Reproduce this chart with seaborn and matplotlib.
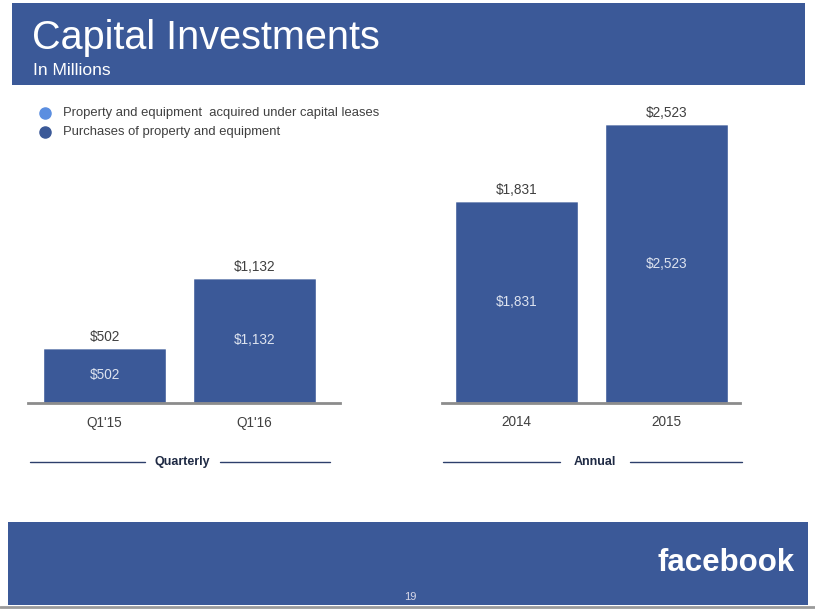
import numpy as np
import pandas as pd
import matplotlib
matplotlib.use("Agg")
import matplotlib.pyplot as plt
import seaborn as sns
from matplotlib.patches import Rectangle
from matplotlib.lines import Line2D

quarter_labels = ["Q1'15", "Q1'16"]
quarter_purchases = [502, 1132]
quarter_leases = [0, 0]
annual_labels = ["2014", "2015"]
annual_purchases = [1831, 2523]
annual_leases = [0, 0]

fb_blue = '#3b5998'
lease_blue = '#5b8ee0'
grey_txt = '#404040'

sns.set_theme(style='white')
plt.rcParams['font.family'] = ['Liberation Sans', 'DejaVu Sans']

fig = plt.figure(figsize=(8.15, 6.11), dpi=100)
W, H = 815, 611

def fx(px):
    return px / W

def fy(py):
    return 1 - py / H

# header and footer bands
fig.patches.append(Rectangle((fx(12), fy(85)), fx(793), 82 / H, transform=fig.transFigure,
                             facecolor=fb_blue, edgecolor='none', zorder=0))
fig.patches.append(Rectangle((fx(8), fy(605)), fx(800), 83 / H, transform=fig.transFigure,
                             facecolor=fb_blue, edgecolor='none', zorder=0))
fig.lines.append(Line2D([0, 1], [fy(607), fy(607)], transform=fig.transFigure, color='#9a9a9a', lw=2))
fig.text(fx(32), fy(49), 'Capital Investments', color='white', fontsize=28.5, va='baseline')
fig.text(fx(33), fy(75), 'In Millions', color='white', fontsize=12.5, va='baseline')
fig.text(fx(795), fy(563), 'facebook', color='white', fontsize=22.5, fontweight='bold',
         ha='right', va='center')
fig.text(fx(410), fy(597), '19', color='#d8d8e8', fontsize=8, ha='center', va='center')

# legend
leg_items = [('Property and equipment  acquired under capital leases', lease_blue),
             ('Purchases of property and equipment', fb_blue)]
for i, (name, col) in enumerate(leg_items):
    y = fy(113 + 19 * i)
    fig.lines.append(Line2D([fx(45)], [y], transform=fig.transFigure, marker='o',
                            markersize=8, color=col, lw=0))
    fig.text(fx(63), y, name, color=grey_txt, fontsize=9.4, va='center')

ymax = 2680
bottom = fy(403)
height = (403 - 107) / H


def panel(x0, x1, labels, purchases, leases, xlim, title, line_l, line_r):
    ax = fig.add_axes([fx(x0), bottom, fx(x1 - x0), height])
    df = pd.DataFrame({'period': labels, 'purchases': purchases, 'leases': leases})
    sns.barplot(data=df, x='period', y='purchases', color=fb_blue, width=0.82,
                saturation=1, ax=ax)
    sns.barplot(data=df, x='period', y='leases', color=lease_blue, width=0.82,
                saturation=1, bottom=df['purchases'], ax=ax)
    for i, (p, l) in enumerate(zip(purchases, leases)):
        tot = p + l
        ax.text(i, tot + 100, '${:,}'.format(tot), ha='center', va='center',
                color=grey_txt, fontsize=9.8)
        ax.text(i, p / 2, '${:,}'.format(p), ha='center', va='center',
                color='#dde3ef', fontsize=9.8)
    ax.set_xlim(*xlim)
    ax.set_ylim(0, ymax)
    ax.set_xlabel('')
    ax.set_ylabel('')
    ax.set_yticks([])
    ax.tick_params(axis='x', length=0, pad=9, labelsize=9.8, labelcolor=grey_txt)
    for s in ['top', 'right', 'left']:
        ax.spines[s].set_visible(False)
    ax.spines['bottom'].set_color('#8c8c8c')
    ax.spines['bottom'].set_linewidth(2)
    ax.patch.set_alpha(0)
    # section caption
    yc = fy(462)
    fig.lines.append(Line2D([fx(line_l[0]), fx(line_l[1])], [yc, yc], transform=fig.transFigure,
                            color='#2d3f6b', lw=1))
    fig.lines.append(Line2D([fx(line_r[0]), fx(line_r[1])], [yc, yc], transform=fig.transFigure,
                            color='#2d3f6b', lw=1))
    fig.text(fx((line_l[1] + line_r[0]) / 2), yc, title, ha='center', va='center',
             color='#1f2a44', fontsize=9, fontweight='bold')
    return ax


panel(28, 340, quarter_labels, quarter_purchases, quarter_leases, (-0.51, 1.57),
      'Quarterly', (30, 145), (220, 330))
panel(442, 740, annual_labels, annual_purchases, annual_leases, (-0.5, 1.49),
      'Annual', (443, 560), (630, 742))

fig.savefig('out.png', dpi=100)
